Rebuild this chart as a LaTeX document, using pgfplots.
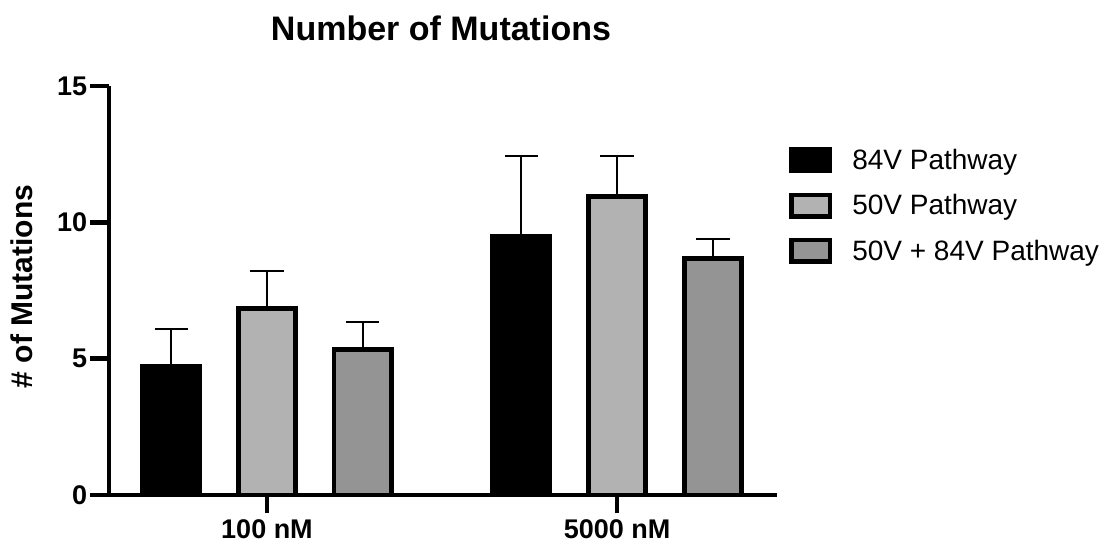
\documentclass[border=0pt]{standalone}
\usepackage{fontspec}
\setmainfont{Liberation Sans}
\usepackage{pgfplots}
\pgfplotsset{compat=1.18}
\definecolor{lightg}{RGB}{178,178,178}
\definecolor{midg}{RGB}{148,148,148}
\begin{document}
\begin{tikzpicture}
\useasboundingbox (-54.5pt,-24.5pt) rectangle (498pt,247.5pt);
\begin{axis}[
  at={(0,0)}, anchor=south west,
  scale only axis,
  width=334pt, height=204.5pt,
  xmin=-0.4514, xmax=1.457,
  ymin=0, ymax=15,
  axis lines=left,
  axis line style={-, line width=2.25pt, black},
  tick align=outside,
  major tick length=9.25pt,
  tick style={line width=2.25pt, black},
  minor tick num=0,
  xtick={0,1}, xticklabels={100 nM, 5000 nM},
  ytick={0,5,10,15},
  /pgf/number format/assume math mode=true,
  ticklabel style={font=\bfseries\fontsize{13.5}{16}\selectfont},
  xticklabel style={anchor=base, inner sep=0pt, yshift=-12.5pt},
  yticklabel style={anchor=east, inner sep=0pt, xshift=-1.5pt},
  ylabel={\# of Mutations},
  ylabel style={at={(axis description cs:-0.115,0.51)}, anchor=base, rotate=0, font=\bfseries\fontsize{15}{18}\selectfont},
  title={Number of Mutations},
  title style={at={(axis description cs:0.497,1.083)}, anchor=base, inner sep=0pt, font=\bfseries\fontsize{17}{20}\selectfont},
  ybar, bar shift=0pt, bar width=28.7pt,
  every axis plot/.append style={line width=2.3pt, draw=black},
  error bars/y dir=plus, error bars/y explicit,
  error bars/error bar style={line width=1pt, black},
  error bars/error mark options={line width=1pt, black, mark size=8.3pt, rotate=90},
  legend image code/.code={\draw[#1] (0pt,-5pt) rectangle (19.2pt,5.7pt);},
  legend style={at={(axis description cs:1.0184,0.85)}, anchor=north west,
    draw=none, fill=none, inner sep=0pt, outer sep=0pt,
    nodes={inner sep=0pt},
    row sep=9.6pt, column sep=10pt,
    font=\fontsize{14}{17}\selectfont},
  legend cell align=left,
  clip=false,
]
\addplot[fill=black] coordinates {(-0.273,4.71) +- (0,1.37) (0.727,9.47) +- (0,2.98)};
\addplot[fill=lightg] coordinates {(0,6.84) +- (0,1.38) (1,10.94) +- (0,1.49)};
\addplot[fill=midg] coordinates {(0.273,5.34) +- (0,1.00) (1.274,8.68) +- (0,0.69)};
\legend{84V Pathway, 50V Pathway, 50V + 84V Pathway}
\end{axis}
\end{tikzpicture}
\end{document}
